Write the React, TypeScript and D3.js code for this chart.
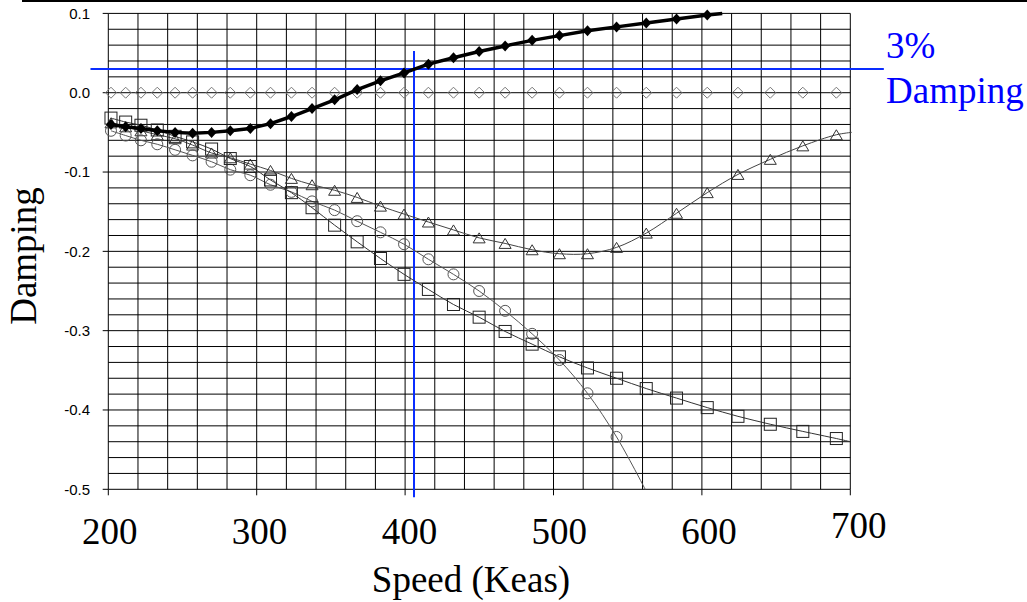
import React from "react";
import * as d3 from "d3";

// Speed (Keas) at which every test point was taken (shared by all series)
const speeds = [
  201.8, 211.7, 222.0, 233.0, 245.0, 256.8, 269.6, 282.2, 295.7, 309.3, 323.4,
  337.3, 352.5, 367.7, 383.4, 399.3, 415.7, 432.6, 449.9, 467.4, 485.6, 504.0,
  522.9, 542.5, 562.5, 582.9, 603.6, 624.3, 646.1, 668.0, 690.6,
];

// Filled diamonds (critical mode, thick line) – first 27 speeds
const solidDiamond = [
  -0.040, -0.043, -0.045, -0.048, -0.050, -0.051, -0.050, -0.048, -0.045, -0.039,
  -0.030, -0.020, -0.009, 0.004, 0.015, 0.025, 0.036, 0.044, 0.052, 0.059, 0.066,
  0.072, 0.078, 0.083, 0.088, 0.093, 0.098,
];
const solidTail = [613.7, 0.1];

// Open diamonds (all at zero)
const openDiamond = [
  0, 0, 0, 0, 0, 0, 0, 0, 0, 0, 0, 0, 0, 0, 0, 0, 0, 0, 0, 0, 0, 0, 0, 0, 0, 0,
  0, 0, 0, 0, 0,
];

// Open triangles
const triangles = [
  -0.038, -0.043, -0.048, -0.053, -0.058, -0.066, -0.076, -0.082, -0.090, -0.098,
  -0.108, -0.116, -0.123, -0.132, -0.143, -0.153, -0.163, -0.173, -0.183, -0.190,
  -0.198, -0.203, -0.203, -0.195, -0.177, -0.152, -0.126, -0.103, -0.084, -0.067,
  -0.053,
];
const triangleTail = [701, -0.05];

// Open circles – first 24 speeds
const circles = [
  -0.048, -0.054, -0.060, -0.065, -0.072, -0.079, -0.087, -0.097, -0.104, -0.116,
  -0.125, -0.137, -0.148, -0.162, -0.176, -0.191, -0.210, -0.229, -0.250, -0.275,
  -0.304, -0.337, -0.379, -0.434,
];
const circleTail = [561.8, -0.5];

// Open squares
const squares = [
  -0.032, -0.037, -0.041, -0.047, -0.055, -0.062, -0.071, -0.083, -0.093, -0.110,
  -0.126, -0.145, -0.167, -0.188, -0.209, -0.229, -0.248, -0.267, -0.283, -0.301,
  -0.317, -0.333, -0.347, -0.360, -0.373, -0.385, -0.397, -0.408, -0.418, -0.427,
  -0.436,
];
const squareTail = [700, -0.44];

const xTicks = [200, 300, 400, 500, 600, 700];
const yTicks = [0.1, 0.0, -0.1, -0.2, -0.3, -0.4, -0.5];
const yTickLabels = ["0.1", "0.0", "-0.1", "-0.2", "-0.3", "-0.4", "-0.5"];

// 3% damping reference lines
const dampingLevel = 0.03;
const dampingSpeed = 406;
const dampingLineSpeeds = [188, 722.6];
const dampingLineValues = [0.0525, -0.51];
const dampingLabel = ["3%", "Damping"];

const W = 1027;
const H = 602;

export default function App() {
  const x = d3.scaleLinear().domain([200, 700]).range([108.3, 850.3]);
  const y = d3.scaleLinear().domain([-0.5, 0.1]).range([489.3, 13.4]);

  const vGrid = d3.range(200, 700.001, 20);
  const hGrid = d3.range(0, 30.5, 1).map((i) => -0.5 + i * 0.02);

  const pts = (vals: number[], tail?: number[]) => {
    const p: [number, number][] = vals.map((v, i) => [x(speeds[i]), y(v)]);
    if (tail) p.push([x(tail[0]), y(tail[1])]);
    return p;
  };

  const linear = d3.line();
  const smooth = d3.line().curve(d3.curveCatmullRom.alpha(0.5));

  const serif = "'Liberation Serif', 'Times New Roman', serif";
  const sans = "'Liberation Sans', Arial, sans-serif";
  const blue = "#0a2dff";

  const diamondPath = (cx: number, cy: number, w: number, h: number) =>
    `M${cx},${cy - h / 2}L${cx + w / 2},${cy}L${cx},${cy + h / 2}L${cx - w / 2},${cy}Z`;
  const trianglePath = (cx: number, cy: number, w: number, h: number) =>
    `M${cx},${cy - h / 2}L${cx + w / 2},${cy + h / 2}L${cx - w / 2},${cy + h / 2}Z`;

  return (
    <svg
      width={W}
      height={H}
      style={{ position: "absolute", left: 0, top: 0, background: "#fff" }}
    >
      <rect x={0} y={0} width={W} height={H} fill="#fff" />
      {/* top rule */}
      <line x1={22} x2={W} y1={1} y2={1} stroke="#000" strokeWidth={2} />

      {/* grid */}
      <g stroke="#000" strokeWidth={1}>
        {vGrid.map((s) => (
          <line key={"v" + s} x1={x(s)} x2={x(s)} y1={y(0.1)} y2={y(-0.5)} />
        ))}
        {hGrid.map((v, i) => (
          <line key={"h" + i} x1={x(200)} x2={x(700)} y1={y(v)} y2={y(v)} />
        ))}
      </g>

      {/* axis ticks */}
      <g stroke="#000" strokeWidth={1}>
        {yTicks.map((v) => (
          <line key={"yt" + v} x1={x(200) - 5.6} x2={x(200)} y1={y(v)} y2={y(v)} />
        ))}
        {xTicks.map((s) => (
          <line key={"xt" + s} x1={x(s)} x2={x(s)} y1={y(-0.5)} y2={y(-0.5) + 6} />
        ))}
      </g>

      {/* y tick labels */}
      <g fontFamily={sans} fontSize={15} fill="#000" textAnchor="end">
        {yTicks.map((v, i) => (
          <text key={"yl" + v} x={90} y={y(v)} dy="0.36em">
            {yTickLabels[i]}
          </text>
        ))}
      </g>

      {/* x tick labels */}
      <g fontFamily={serif} fontSize={37} fill="#000" textAnchor="middle">
        {xTicks.map((s, i) => (
          <text
            key={"xl" + s}
            x={x(s) + 1.5 + ((s - 200) / 500) * 7}
            y={i === xTicks.length - 1 ? 538 : 544}
          >
            {s}
          </text>
        ))}
      </g>

      {/* axis titles */}
      <text x={471} y={592} fontFamily={serif} fontSize={37} textAnchor="middle">
        Speed (Keas)
      </text>
      <text
        transform="translate(36,256) rotate(-90)"
        fontFamily={serif}
        fontSize={37}
        textAnchor="middle"
      >
        Damping
      </text>

      {/* 3% damping reference */}
      <line
        x1={x(dampingLineSpeeds[0])}
        x2={x(dampingLineSpeeds[1])}
        y1={y(dampingLevel)}
        y2={y(dampingLevel)}
        stroke={blue}
        strokeWidth={2}
      />
      <line
        x1={x(dampingSpeed)}
        x2={x(dampingSpeed)}
        y1={y(dampingLineValues[0])}
        y2={y(dampingLineValues[1])}
        stroke={blue}
        strokeWidth={2}
      />
      <g fontFamily={serif} fontSize={37} fill="#0000ff">
        <text x={886} y={58}>{dampingLabel[0]}</text>
        <text x={886} y={103}>{dampingLabel[1]}</text>
      </g>

      {/* thin trend curves */}
      <g fill="none" strokeWidth={1}>
        <path d={smooth(pts(triangles, triangleTail)) || ""} stroke="#444" />
        <path d={smooth(pts(circles, circleTail)) || ""} stroke="#555" />
        <path d={smooth(pts(squares, squareTail)) || ""} stroke="#333" />
      </g>

      {/* open diamonds */}
      <g fill="none" stroke="#777" strokeWidth={1}>
        {openDiamond.map((v, i) => (
          <path key={"od" + i} d={diamondPath(x(speeds[i]), y(v), 11, 11)} />
        ))}
      </g>

      {/* triangles */}
      <g fill="none" stroke="#333" strokeWidth={1}>
        {triangles.map((v, i) => (
          <path key={"tr" + i} d={trianglePath(x(speeds[i]), y(v), 12, 10)} />
        ))}
      </g>

      {/* circles */}
      <g fill="none" stroke="#555" strokeWidth={1}>
        {circles.map((v, i) => (
          <circle key={"ci" + i} cx={x(speeds[i])} cy={y(v)} r={5.5} />
        ))}
      </g>

      {/* squares */}
      <g fill="none" stroke="#222" strokeWidth={1}>
        {squares.map((v, i) => (
          <rect
            key={"sq" + i}
            x={x(speeds[i]) - 6}
            y={y(v) - 6}
            width={12}
            height={12}
          />
        ))}
      </g>

      {/* thick critical curve with solid diamonds */}
      <path
        d={linear(pts(solidDiamond, solidTail)) || ""}
        fill="none"
        stroke="#000"
        strokeWidth={3.5}
        strokeLinejoin="round"
      />
      <g fill="#000">
        {solidDiamond.map((v, i) => (
          <path key={"sd" + i} d={diamondPath(x(speeds[i]), y(v), 10, 11)} />
        ))}
      </g>
    </svg>
  );
}
